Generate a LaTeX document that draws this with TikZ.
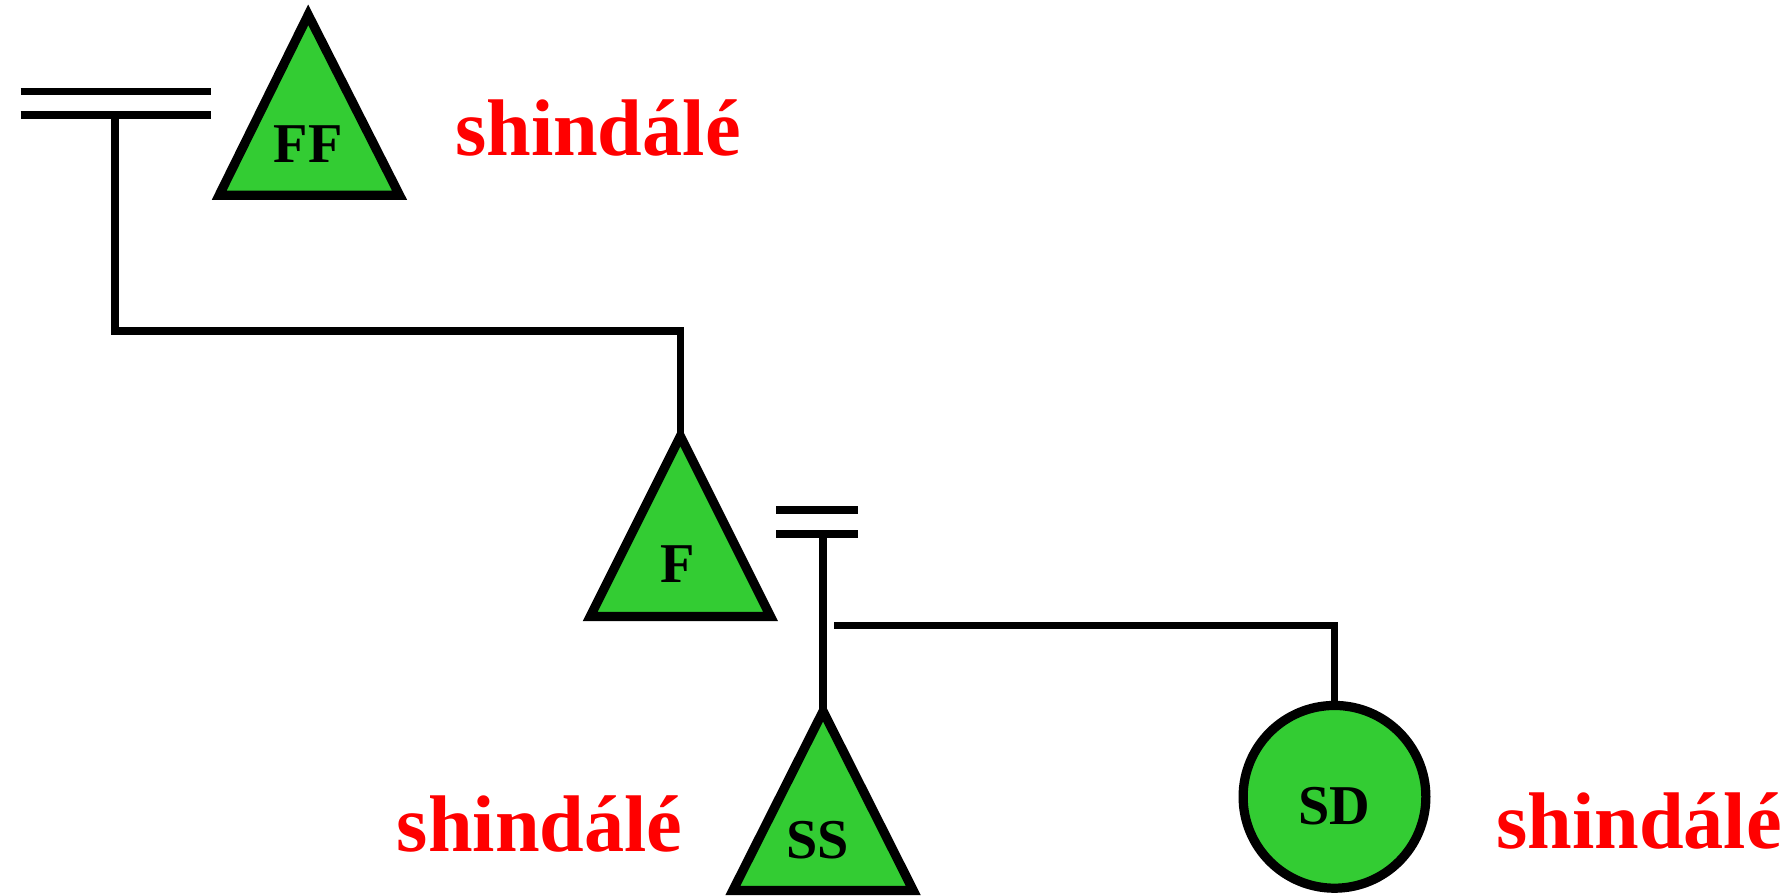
\documentclass[tikz,border=0pt]{standalone}
\usepackage{fontspec}
\setmainfont{Liberation Serif}
\definecolor{leafgreen}{RGB}{51,204,51}
\tikzset{tri/.style={draw=black,line width=2.3pt,fill=leafgreen,line join=miter}}
\tikzset{wire/.style={line width=1.9pt}}
\tikzset{tag/.style={font=\bfseries\fontsize{14}{16}\selectfont,anchor=base,inner sep=0pt}}
\tikzset{note/.style={text=red,font=\bfseries\fontsize{20}{24}\selectfont,anchor=base west,inner sep=0pt}}

\begin{document}
\begin{tikzpicture}[x=0.01cm,y=-0.01cm]
                \useasboundingbox (0,0) rectangle (1568,784);
                
                % Triangles
                \draw[tri] (270,13) coordinate (ff) -- (350,171) -- (192,171) -- cycle;
                \draw[tri] (596,382) coordinate (f) -- (675,540) -- (517,540) -- cycle;
                \draw[tri] (721,623) coordinate (ss) -- (800,780) -- (642,780) -- cycle;
                
                % Circle
                \node[circle,draw,line width=2.3pt,fill=leafgreen,minimum size=1.6cm,inner sep=0pt] (sd) at (1169,698) {};
                
                % Double bars
                \draw[wire] (18,80) -- (185,80);
                \draw[wire] (18,101) -- (185,101);
                \coordinate (bara) at (101,101);
                \draw[wire] (680,447) -- (752,447);
                \draw[wire] (680,468) -- (752,468);
                \coordinate (barb) at (721,468);
                
                % Lines
                \coordinate (fjoin) at (596,290);
                \draw[wire] (bara) |- (fjoin) -- (f);
                \draw[wire] (barb) -- (ss);
                \coordinate (sdleft) at (731,548);
                \draw[wire] (sdleft) -| (sd.north);
                
                % Labels
                \node[tag] (fftag) at (270,142) {FF};
                \node[tag] (ftag) at (594,510) {F};
                \node[tag] (sstag) at (716,752) {SS};
                \node[tag] (sdtag) at (1169,722) {SD};
                
                \node[note] (notea) at (398,136) {shindálé};
                \node[note] (noteb) at (347,746) {shindálé};
                \node[note] (notec) at (1310,743) {shindálé};
            \end{tikzpicture}
\end{document}
